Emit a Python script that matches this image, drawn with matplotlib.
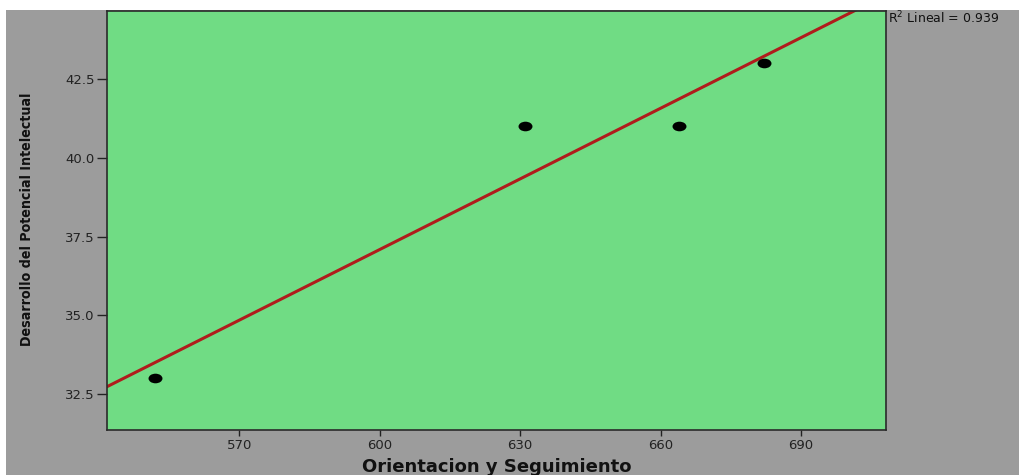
import numpy as np
import matplotlib
matplotlib.use('Agg')
import matplotlib.pyplot as plt
from matplotlib.markers import MarkerStyle
from matplotlib.transforms import Affine2D
from matplotlib.patches import Rectangle

# ── data ──────────────────────────────────────────────────────────────────────
orientacion = [552, 631, 664, 682]
potencial   = [33, 41, 41, 43]
xticks = [570, 600, 630, 660, 690]
yticks = [32.5, 35.0, 37.5, 40.0, 42.5]

x = np.array(orientacion, dtype=float)
y = np.array(potencial, dtype=float)
slope, intercept = np.polyfit(x, y, 1)
r2 = np.corrcoef(x, y)[0, 1] ** 2

W, H = 1019, 475
fig = plt.figure(figsize=(W / 100, H / 100), dpi=100)
fig.patch.set_facecolor('white')
# gray SPSS chart background (white strip at top and left)
fig.patches.append(Rectangle((6 / W, 0), 1 - 6 / W, 1 - 10 / H,
                             transform=fig.transFigure, facecolor='#9c9c9c',
                             edgecolor='none', zorder=-10))

ax = fig.add_axes([107 / W, 45 / H, (885.7 - 107) / W, (430 - 10.7) / H])
ax.set_facecolor('#70dc84')
ax.set_xlim(541.7, 708.1)
ax.set_ylim(31.36, 44.67)

xl = np.array(ax.get_xlim())
ax.plot(xl, intercept + slope * xl, color='#b01c1c', lw=2.2, zorder=2)

ell = MarkerStyle('o', transform=Affine2D().scale(1.45, 1.0))
ax.scatter(x, y, marker=ell, s=48, color='black', zorder=3, linewidths=0)

ax.set_xticks(xticks)
ax.set_yticks(yticks)
ax.set_xticklabels([str(v) for v in xticks])
ax.set_yticklabels([f"{v:.1f}" for v in yticks])
ax.tick_params(direction='out', width=1, colors='#222222',
               labelsize=9.5, labelcolor='#222222')
ax.tick_params(axis='x', length=4.5, pad=2)
ax.tick_params(axis='y', length=7.5, pad=1.5)
for s in ax.spines.values():
    s.set_color('#2a2a2a')
    s.set_linewidth(1.2)

fig.text(497 / W, 1 - 471.5 / H, "Orientacion y Seguimiento", ha='center',
         va='baseline', fontsize=13, fontweight='bold', color='#111111')
fig.text(27 / W, 1 - 219 / H, "Desarrollo del Potencial Intelectual",
         rotation=90, ha='center', va='center', fontsize=10.2, fontweight='bold',
         fontstretch='condensed', family='DejaVu Sans', color='#111111')

fig.text(888 / W, 1 - 18 / H, f"R$^2$ Lineal = {r2:.3f}", ha='left',
         va='center', fontsize=9, color='#111111')

plt.savefig("out.png", dpi=100)
